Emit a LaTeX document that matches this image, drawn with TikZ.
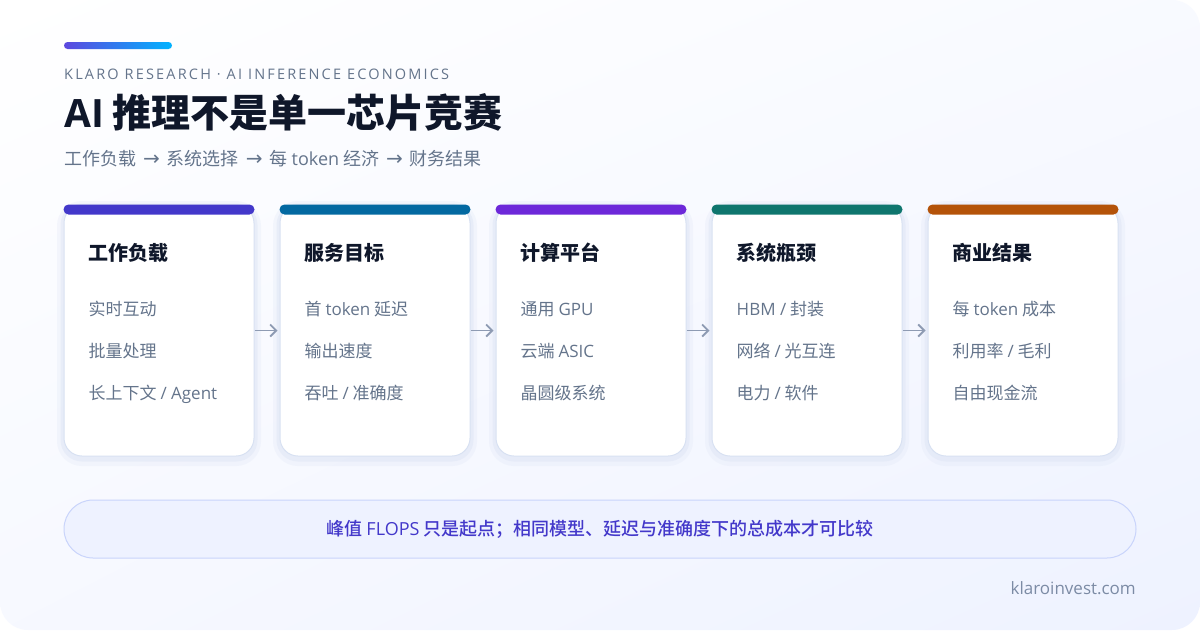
\documentclass[tikz,border=0pt]{standalone}
\usepackage{fontspec}
\setmainfont{Noto Sans CJK SC}
\newfontfamily\latin{Open Sans}
\newfontfamily\arrowfont{DejaVu Sans}
\newcommand\lat[1]{{\latin #1}}
\newcommand\nextstep{\hspace{7pt}{\arrowfont\fontsize{20}{20}\selectfont →}\hspace{7pt}}
\IfFontExistsTF{Noto Sans CJK SC Medium}
  {\newfontfamily\cjkmedium{Noto Sans CJK SC Medium}}
  {\newcommand\cjkmedium{\bfseries}}
\usetikzlibrary{positioning,calc,arrows.meta,shadings}

\definecolor{ink}{HTML}{0F172A}
\definecolor{slate}{HTML}{64748B}
\definecolor{muted}{HTML}{7C8BA5}
\definecolor{cardline}{HTML}{D8E1F2}
\definecolor{halo}{HTML}{DDE4F4}
\definecolor{arrowgray}{HTML}{8E9BB3}
\definecolor{notefill}{HTML}{EEF2FF}
\definecolor{noteline}{HTML}{C9D4FB}
\definecolor{noteink}{HTML}{4338CA}
\definecolor{barA}{HTML}{4338CA}
\definecolor{barB}{HTML}{0369A1}
\definecolor{barC}{HTML}{6D28D9}
\definecolor{barD}{HTML}{0F766E}
\definecolor{barE}{HTML}{B45309}

\begin{document}
\begin{tikzpicture}[x=1pt,y=-1pt,
  card/.style={draw=cardline, line width=1pt, fill=white, rounded corners=18pt,
    minimum width=190pt, minimum height=251pt, inner sep=0pt,
    preaction={draw=halo, line width=14pt, opacity=0.25, transform canvas={yshift=-3pt}},
    preaction={draw=halo, line width=7pt, opacity=0.45, transform canvas={yshift=-2pt}}},
  cardtitle/.style={anchor=base west, inner sep=0pt, text=ink, font=\fontsize{20}{24}\selectfont\bfseries},
  item/.style={anchor=base west, inner sep=0pt, text=slate, font=\fontsize{17}{20}\selectfont},
  flow/.style={draw=arrowgray, line width=1.8pt, -{Straight Barb[length=6pt,width=12pt]}, shorten >=2pt}]
  \useasboundingbox (0,0) rectangle (1200,630);

  % Page
  \fill[white] (0,0) rectangle (1200,630);
  \shade[rounded corners=28pt, upper left=white, upper right=white!60!notefill,
    lower left=white!50!notefill, lower right=notefill] (0,0) rectangle (1200,630);

  % Header
  \shade[rounded corners=3.5pt, left color=barC!85!cyan, right color=cyan!70!blue] (64,42) rectangle (172,49);
  \node[anchor=base west, inner sep=0pt, text=slate, font=\latin\fontsize{14.5}{16}\selectfont\addfontfeature{LetterSpace=15}] (kicker) at (64,79) {KLARO RESEARCH · AI INFERENCE ECONOMICS};
  \node[anchor=base west, inner sep=0pt, text=ink, font=\fontsize{39}{44}\selectfont\bfseries] (headline) at (64,127) {\lat{AI} 推理不是单一芯片竞赛};
  \node[anchor=base west, inner sep=0pt, text=slate, font=\fontsize{18}{20}\selectfont] (chain) at (64,165) {工作负载\nextstep 系统选择\nextstep 每 \lat{token} 经济\nextstep 财务结果};

  % Cards
  \node[card] (workload) at (159,330.5) {};
  \node[card, right=25pt of workload] (target) {};
  \node[card, right=25pt of target] (platform) {};
  \node[card, right=25pt of platform] (bottleneck) {};
  \node[card, right=25pt of bottleneck] (outcome) {};

  \fill[barA, rounded corners=5pt] (workload.north west) rectangle ($(workload.north east)+(0,10)$);
  \fill[barB, rounded corners=5pt] (target.north west) rectangle ($(target.north east)+(0,10)$);
  \fill[barC, rounded corners=5pt] (platform.north west) rectangle ($(platform.north east)+(0,10)$);
  \fill[barD, rounded corners=5pt] (bottleneck.north west) rectangle ($(bottleneck.north east)+(0,10)$);
  \fill[barE, rounded corners=5pt] (outcome.north west) rectangle ($(outcome.north east)+(0,10)$);

  \node[cardtitle] (workload-t) at ($(workload.north west)+(25,56)$) {工作负载};
  \node[item] (workload-1) at ($(workload.north west)+(25,111)$) {实时互动};
  \node[item] (workload-2) at ($(workload.north west)+(25,153)$) {批量处理};
  \node[item] (workload-3) at ($(workload.north west)+(25,195)$) {长上下文 \lat{/ Agent}};

  \node[cardtitle] (target-t) at ($(target.north west)+(25,56)$) {服务目标};
  \node[item] (target-1) at ($(target.north west)+(25,111)$) {首 \lat{token} 延迟};
  \node[item] (target-2) at ($(target.north west)+(25,153)$) {输出速度};
  \node[item] (target-3) at ($(target.north west)+(25,195)$) {吞吐 \lat{/} 准确度};

  \node[cardtitle] (platform-t) at ($(platform.north west)+(25,56)$) {计算平台};
  \node[item] (platform-1) at ($(platform.north west)+(25,111)$) {通用 \lat{GPU}};
  \node[item] (platform-2) at ($(platform.north west)+(25,153)$) {云端 \lat{ASIC}};
  \node[item] (platform-3) at ($(platform.north west)+(25,195)$) {晶圆级系统};

  \node[cardtitle] (bottleneck-t) at ($(bottleneck.north west)+(25,56)$) {系统瓶颈};
  \node[item] (bottleneck-1) at ($(bottleneck.north west)+(25,111)$) {\lat{HBM /} 封装};
  \node[item] (bottleneck-2) at ($(bottleneck.north west)+(25,153)$) {网络 \lat{/} 光互连};
  \node[item] (bottleneck-3) at ($(bottleneck.north west)+(25,195)$) {电力 \lat{/} 软件};

  \node[cardtitle] (outcome-t) at ($(outcome.north west)+(25,56)$) {商业结果};
  \node[item] (outcome-1) at ($(outcome.north west)+(25,111)$) {每 \lat{token} 成本};
  \node[item] (outcome-2) at ($(outcome.north west)+(25,153)$) {利用率 \lat{/} 毛利};
  \node[item] (outcome-3) at ($(outcome.north west)+(25,195)$) {自由现金流};

  % Flow between cards
  \draw[flow] (workload) -- (target);
  \draw[flow] (target) -- (platform);
  \draw[flow] (platform) -- (bottleneck);
  \draw[flow] (bottleneck) -- (outcome);

  % Takeaway and footer
  \node[draw=noteline, line width=1pt, fill=notefill, rounded corners=29pt, minimum width=1072pt,
    minimum height=58pt, text=noteink, font=\fontsize{18}{20}\selectfont\cjkmedium] (note) at (600,529)
    {峰值 \lat{FLOPS} 只是起点；相同模型、延迟与准确度下的总成本才可比较};
  \node[anchor=base east, inner sep=0pt, text=muted, font=\latin\fontsize{17}{18}\selectfont] (site) at (1136,594) {klaroinvest.com};
\end{tikzpicture}
\end{document}
